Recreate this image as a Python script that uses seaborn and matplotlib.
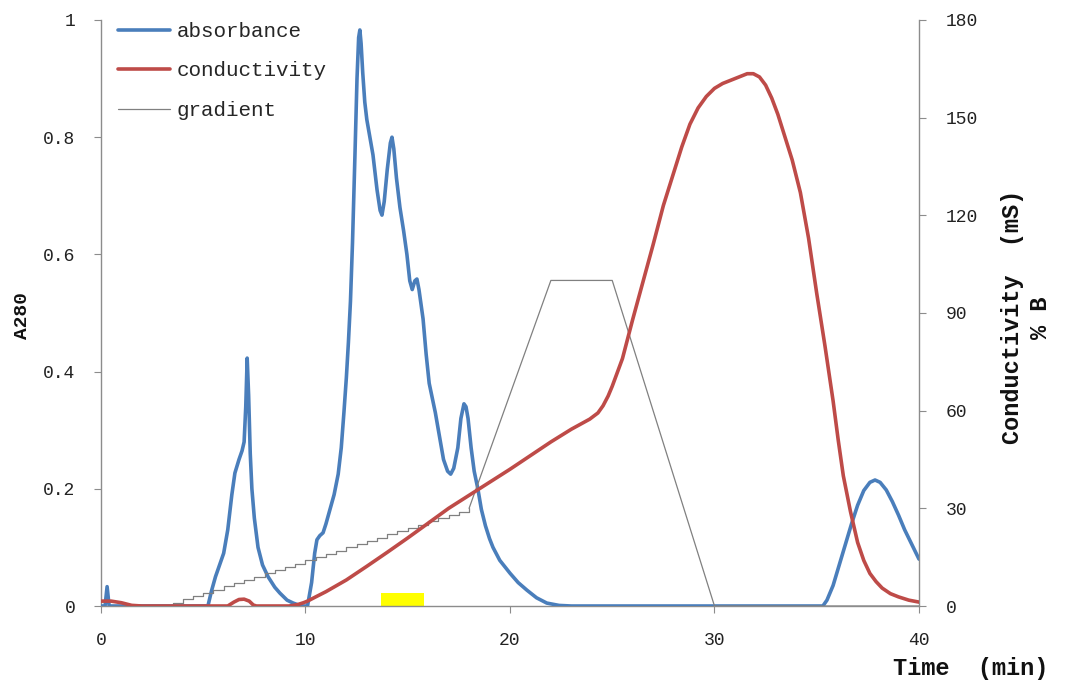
import matplotlib
matplotlib.use("Agg")
import matplotlib.pyplot as plt
import seaborn as sns
import pandas as pd

# ---------------- data ----------------
abs_time = [0.0, 0.2, 0.3, 0.4, 0.6,
            5.23, 5.4, 5.6, 5.8, 6.0, 6.2, 6.4, 6.55, 6.75, 6.9, 7.0, 7.08, 7.15, 7.22,
            7.3, 7.38, 7.5, 7.68, 7.9, 8.17, 8.5, 8.75, 9.1, 9.4, 9.8,
            10.1, 10.3, 10.45, 10.56, 10.7, 10.86, 11.0, 11.2, 11.4, 11.6, 11.75, 11.88,
            12.0, 12.1, 12.2, 12.3, 12.42, 12.52, 12.6, 12.66, 12.72, 12.8, 12.9, 13.0,
            13.15, 13.3, 13.5, 13.65, 13.74, 13.85, 14.0, 14.15, 14.23, 14.32, 14.45,
            14.62, 14.8, 14.96, 15.1, 15.22, 15.35, 15.45, 15.55, 15.75, 15.9, 16.05,
            16.2, 16.35, 16.55, 16.75, 16.95, 17.1, 17.25, 17.45, 17.6, 17.75, 17.85,
            17.95, 18.1, 18.25, 18.43, 18.6, 18.8, 19.0, 19.17, 19.5, 20.0, 20.4, 20.83,
            21.3, 21.8, 22.4, 23.0,
            35.3, 35.5, 35.8, 36.1, 36.4, 36.7, 37.0, 37.3, 37.6, 37.85, 38.1, 38.4,
            38.7, 39.0, 39.3, 39.65, 40.0]
absorbance = [0.0, 0.0, 0.033, 0.0, 0.0,
              0.0, 0.025, 0.05, 0.07, 0.09, 0.13, 0.19, 0.227, 0.25, 0.265, 0.28, 0.34,
              0.423, 0.36, 0.26, 0.2, 0.15, 0.10, 0.07, 0.05, 0.032, 0.022, 0.01, 0.005,
              0.0,
              0.0, 0.04, 0.09, 0.113, 0.12, 0.125, 0.14, 0.165, 0.19, 0.225, 0.27, 0.33,
              0.39, 0.45, 0.52, 0.62, 0.77, 0.9, 0.97, 0.983, 0.96, 0.91, 0.86, 0.83,
              0.80, 0.77, 0.71, 0.675, 0.667, 0.69, 0.745, 0.79, 0.80, 0.78, 0.73,
              0.68, 0.64, 0.60, 0.555, 0.54, 0.555, 0.558, 0.54, 0.49, 0.43, 0.38,
              0.355, 0.33, 0.29, 0.25, 0.23, 0.225, 0.235, 0.27, 0.32, 0.345, 0.34,
              0.32, 0.27, 0.23, 0.20, 0.165, 0.137, 0.115, 0.10, 0.078, 0.056, 0.04, 0.027,
              0.014, 0.005, 0.001, 0.0,
              0.0, 0.01, 0.035, 0.07, 0.105, 0.14, 0.172, 0.197, 0.211, 0.215, 0.211, 0.198,
              0.178, 0.155, 0.13, 0.105, 0.08]

cond_time = [0.0, 0.5, 1.0, 1.5, 2.0, 6.2, 6.5, 6.75, 7.0, 7.25, 7.45, 7.6, 9.2, 9.6,
             9.9, 10.1, 10.5, 11.0, 12.0, 12.5, 13.0, 14.0, 15.0, 15.75, 17.0, 18.4,
             20.0, 22.0, 23.0, 23.9, 24.3, 24.55, 24.8, 25.0, 25.5, 26.0, 26.5, 27.0,
             27.5, 28.0, 28.4, 28.8, 29.2, 29.6, 30.0, 30.4, 30.8, 31.2, 31.6, 31.9,
             32.2, 32.5, 32.8, 33.1, 33.4, 33.8, 34.2, 34.6, 35.0, 35.4, 35.8, 36.05,
             36.3, 36.65, 37.0, 37.3, 37.6, 37.9, 38.2, 38.6, 39.0, 39.5, 40.0]
conductivity = [1.5, 1.5, 1.0, 0.2, 0.0, 0.0, 1.2, 2.0, 2.1, 1.5, 0.3, 0.0, 0.0, 0.4,
                1.0, 1.5, 2.8, 4.4, 8.0, 10.1, 12.2, 16.5, 20.9, 24.3, 30.0, 35.6,
                42.0, 50.4, 54.3, 57.4, 59.3, 61.5, 64.5, 67.5, 76.0, 88.0, 99.5, 111.0,
                123.0, 133.0, 141.0, 148.0, 153.0, 156.5, 159.0, 160.5, 161.5, 162.5,
                163.5, 163.5, 162.5, 160.0, 156.0, 151.0, 145.0, 137.0, 127.0, 113.0,
                96.0, 80.0, 63.0, 51.0, 40.0, 29.0, 19.5, 14.0, 10.0, 7.5, 5.5, 3.8, 2.8,
                1.8, 1.2]

# step part of the gradient (% B), one step per time point
grad_step_time = [0.0, 3.5, 4.0, 4.5, 5.0, 5.5, 6.0, 6.5, 7.0, 7.5, 8.0, 8.5, 9.0, 9.5, 10.0,
                  10.5, 11.0, 11.5, 12.0, 12.5, 13.0, 13.5, 14.0, 14.5, 15.0, 15.5, 16.0,
                  16.5, 17.0, 17.5, 18.0]
grad_step_value = [0, 1, 2, 3, 4, 5, 6, 7, 8, 9, 10, 11, 12, 13, 14, 15, 16, 17, 18, 19, 20,
                   21, 22, 23, 24, 25, 26, 27, 28, 29, 30]
# linear part of the gradient
grad_lin_time = [18.0, 22.0, 25.0, 30.0, 40.0]
grad_lin_value = [30, 100, 100, 0, 0]

# collected fraction marker
fraction_start, fraction_end, fraction_height = 13.7, 15.8, 0.022

x_ticks = [0, 10, 20, 30, 40]
y_ticks = [0, 0.2, 0.4, 0.6, 0.8, 1]
y_tick_labels = ["0", "0.2", "0.4", "0.6", "0.8", "1"]
y2_ticks = [0, 30, 60, 90, 120, 150, 180]

# ---------------- style ----------------
sns.set_style("white")
plt.rcParams["font.family"] = ["Liberation Mono", "DejaVu Sans"]

BLUE = "#4A7EBB"
RED = "#BE4B48"
GRAY = "#808080"
SPINE = "#8C8C8C"

fig = plt.figure(figsize=(10.65, 6.87), dpi=100)
ax = fig.add_axes([0.0948, 0.1179, 0.7681, 0.8530])
ax2 = ax.twinx()

df_abs = pd.DataFrame({"t": abs_time, "v": absorbance})
df_cond = pd.DataFrame({"t": cond_time, "v": conductivity})
df_gs = pd.DataFrame({"t": grad_step_time, "v": grad_step_value})
df_gl = pd.DataFrame({"t": grad_lin_time, "v": grad_lin_value})

ax.fill_between([fraction_start, fraction_end], 0, fraction_height,
                color="#FFFF00", linewidth=0, zorder=1)
sns.lineplot(data=df_abs, x="t", y="v", ax=ax, color=BLUE, linewidth=2.6,
             estimator=None, sort=False, label="absorbance", zorder=3,
             solid_joinstyle="round", solid_capstyle="round")
sns.lineplot(data=df_cond, x="t", y="v", ax=ax2, color=RED, linewidth=2.6,
             estimator=None, sort=False, label="conductivity", zorder=3,
             solid_joinstyle="round", solid_capstyle="round")
sns.lineplot(data=df_gs, x="t", y="v", ax=ax2, color=GRAY, linewidth=0.9,
             estimator=None, sort=False, drawstyle="steps-post", label="gradient", zorder=2)
sns.lineplot(data=df_gl, x="t", y="v", ax=ax2, color=GRAY, linewidth=0.9,
             estimator=None, sort=False, zorder=2)

ax.set_xlim(0, 40)
ax.set_ylim(0, 1)
ax2.set_ylim(0, 180)
ax.set_xticks(x_ticks)
ax.set_yticks(y_ticks)
ax.set_yticklabels(y_tick_labels)
ax2.set_yticks(y2_ticks)

ax.set_xlabel("")
ax.set_ylabel("")
ax2.set_xlabel("")
ax2.set_ylabel("")

for a in (ax, ax2):
    a.spines["top"].set_visible(False)
    for s in ("left", "right", "bottom"):
        a.spines[s].set_color(SPINE)
        a.spines[s].set_linewidth(1.0)
ax.spines["right"].set_visible(False)
ax2.spines["left"].set_visible(False)
ax2.spines["bottom"].set_visible(False)

ax.tick_params(axis="x", direction="out", length=5, color=SPINE, labelsize=13,
               pad=14, labelcolor="#222222", bottom=True)
ax.tick_params(axis="y", direction="out", length=5, color=SPINE, labelsize=13,
               pad=13.5, labelcolor="#222222", left=True)
ax2.tick_params(axis="y", direction="out", length=5, color=SPINE, labelsize=13,
                pad=14, labelcolor="#222222", right=True)

# legend
for a in (ax, ax2):
    if a.get_legend() is not None:
        a.get_legend().remove()
h1, l1 = ax.get_legend_handles_labels()
h2, l2 = ax2.get_legend_handles_labels()
fig.legend(h1 + h2, l1 + l2, loc="upper left", bbox_to_anchor=(0.1108, 0.968),
           bbox_transform=fig.transFigure, frameon=False, fontsize=15,
           handlelength=2.5, handletextpad=0.3, labelspacing=0.98,
           borderpad=0, borderaxespad=0)

# axis titles
fig.text(0.911, 0.027, "Time  (min)", ha="center", va="center",
         fontsize=17, fontweight="bold", color="#111111")
fig.text(0.021, 0.541, "A280", ha="center", va="center", rotation=90,
         fontsize=14, fontweight="bold", color="#111111")
fig.text(0.951, 0.539, "Conductivity  (mS)", ha="center", va="center", rotation=90,
         fontsize=17, fontweight="bold", color="#111111")
fig.text(0.977, 0.537, "% B", ha="center", va="center", rotation=90,
         fontsize=17, fontweight="bold", color="#111111")

fig.savefig("out.png", dpi=100)
